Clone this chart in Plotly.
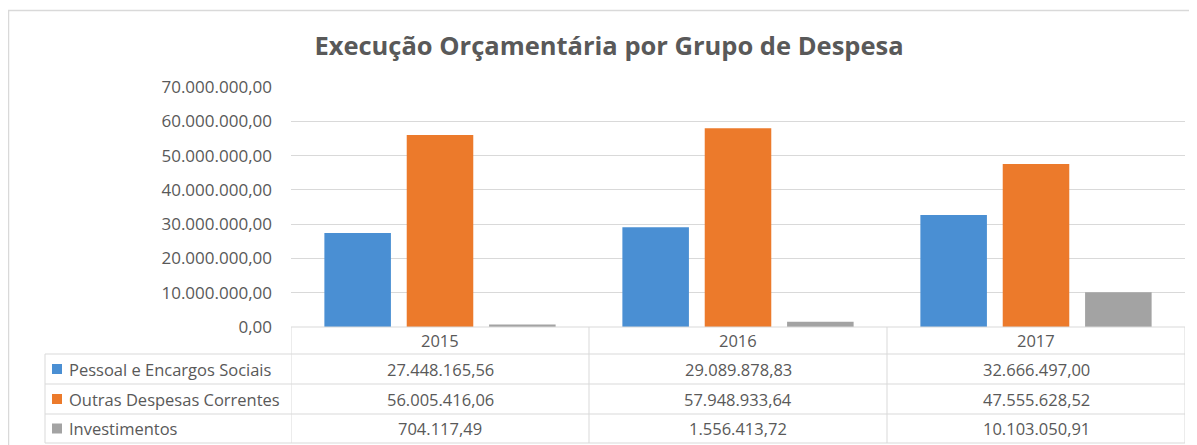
import plotly.graph_objects as go

years = ["2015", "2016", "2017"]
series_names = ["Pessoal e Encargos Sociais", "Outras Despesas Correntes", "Investimentos"]
pessoal = [27448165.56, 29089878.83, 32666497.00]
outras = [56005416.06, 57948933.64, 47555628.52]
investimentos = [704117.49, 1556413.72, 10103050.91]
colors = ["#4a8fd3", "#ec7a2b", "#a3a3a3"]
y_ticks = [0, 10e6, 20e6, 30e6, 40e6, 50e6, 60e6, 70e6]

series = [pessoal, outras, investimentos]

OFF = 8  # page body margin
W, H = 1197 - OFF, 445 - OFF
L = 291 - OFF
R = W - (1185 - OFF)
T = 87 - OFF
B = H - (327 - OFF)
PW = W - L - R
PH = H - T - B
TXT = "#595959"
GRID = "#d9d9d9"
FONT = "Open Sans"


def px_x(px):
    return (px - OFF - L) / PW


def px_y(py):
    return (H - B - (py - OFF)) / PH


def br(v):
    s = f"{v:,.2f}"
    return s.replace(",", "X").replace(".", ",").replace("X", ".")


fig = go.Figure()
for name, vals, c in zip(series_names, series, colors):
    fig.add_trace(go.Bar(x=years, y=vals, name=name, marker=dict(color=c, line=dict(width=0)),
                         showlegend=False))

shapes = []
annotations = []
line = dict(color=GRID, width=1)

# outer chart border
shapes.append(dict(type="rect", xref="paper", yref="paper", x0=px_x(8.5), x1=px_x(1210),
                   y0=px_y(470), y1=px_y(10.5), line=dict(color=GRID, width=1.5), layer="below"))

# table lines
row_lines = [327, 354, 384, 414, 443]
shapes.append(dict(type="line", xref="paper", yref="paper", x0=0, x1=1, y0=px_y(327), y1=px_y(327), line=line))
for ry in row_lines[1:]:
    shapes.append(dict(type="line", xref="paper", yref="paper", x0=px_x(45), x1=1,
                       y0=px_y(ry), y1=px_y(ry), line=line))
shapes.append(dict(type="line", xref="paper", yref="paper", x0=px_x(45), x1=px_x(45),
                   y0=px_y(354), y1=px_y(443), line=line))
for k in range(len(years) + 1):
    shapes.append(dict(type="line", xref="x", yref="paper", x0=k - 0.5, x1=k - 0.5,
                       y0=px_y(327), y1=px_y(443), line=line))

TFS = 16.5
for i, yr in enumerate(years):
    annotations.append(dict(x=i, y=px_y(340.5), xref="x", yref="paper", text=yr, showarrow=False,
                            font=dict(family=FONT, size=TFS, color=TXT), xanchor="center", yanchor="middle"))

row_centers = [369, 399, 428.5]
for name, vals, c, rc in zip(series_names, series, colors, row_centers):
    shapes.append(dict(type="rect", xref="paper", yref="paper", x0=px_x(52), x1=px_x(62),
                       y0=px_y(rc + 5), y1=px_y(rc - 5), fillcolor=c, line=dict(width=0)))
    annotations.append(dict(x=px_x(67), y=px_y(rc), xref="paper", yref="paper", text=name,
                            showarrow=False, font=dict(family=FONT, size=TFS, color=TXT),
                            xanchor="left", yanchor="middle"))
    for i, v in enumerate(vals):
        annotations.append(dict(x=i, y=px_y(rc), xref="x", yref="paper", text=br(v), showarrow=False,
                                font=dict(family=FONT, size=TFS, color=TXT), xanchor="center",
                                yanchor="middle"))

fig.update_layout(
    width=W, height=H,
    margin=dict(l=L, r=R, t=T, b=B, pad=0),
    paper_bgcolor="white", plot_bgcolor="white",
    separators=",.",
    barmode="group", bargap=0.171, bargroupgap=0.192,
    title=dict(text="<b>Execução Orçamentária por Grupo de Despesa</b>", x=(609 - OFF) / W,
               y=1 - (46 - OFF) / H,
               xanchor="center", yanchor="middle", xref="container", yref="container",
               font=dict(family=FONT, size=25.5, color=TXT)),
    xaxis=dict(type="category", range=[-0.5, len(years) - 0.5], showticklabels=False, showgrid=False,
               zeroline=False, showline=False, ticks=""),
    yaxis=dict(range=[0, 70e6], tickvals=y_ticks, tickformat=",.2f", showgrid=True, gridcolor=GRID,
               gridwidth=1, zeroline=False, showline=False, ticks="", ticklabelstandoff=18,
               tickfont=dict(family=FONT, size=17, color=TXT)),
    shapes=shapes,
    annotations=annotations,
)

fig.write_html("out.html")
